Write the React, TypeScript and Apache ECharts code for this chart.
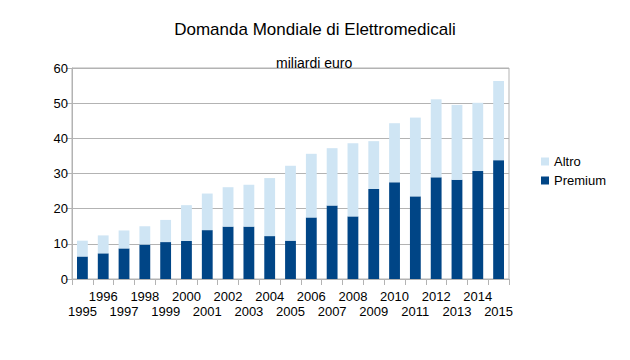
import React, { useEffect, useRef } from "react";
import * as echarts from "echarts";

const years = [
  "1995", "1996", "1997", "1998", "1999", "2000", "2001", "2002", "2003", "2004", "2005",
  "2006", "2007", "2008", "2009", "2010", "2011", "2012", "2013", "2014", "2015",
];
const premium = [6.4, 7.3, 8.7, 9.8, 10.5, 10.8, 13.9, 14.9, 14.9, 12.2, 10.9, 17.5, 20.9, 17.8, 25.6, 27.5, 23.5, 28.9, 28.2, 30.7, 33.8];
const totals = [10.9, 12.4, 13.8, 15.0, 16.8, 21.0, 24.3, 26.1, 26.8, 28.7, 32.2, 35.6, 37.2, 38.6, 39.2, 44.3, 45.9, 51.1, 49.5, 50.1, 56.3];
const altro = totals.map((t, i) => Math.round((t - premium[i]) * 10) / 10);

const FONT = "Liberation Sans";

export default function App() {
  const ref = useRef<HTMLDivElement>(null);
  useEffect(() => {
    document.body.style.margin = "0";
    if (!ref.current) return;
    const chart = echarts.init(ref.current, null, { renderer: "svg" });
    chart.setOption({
      animation: false,
      textStyle: { fontFamily: FONT, color: "#000" },
      title: [
        {
          text: "Domanda Mondiale di Elettromedicali",
          left: "center",
          top: 16,
          textStyle: { fontFamily: FONT, fontSize: 17, fontWeight: "normal", color: "#000" },
        },
        {
          text: "miliardi euro",
          left: 271,
          top: 51,
          textStyle: { fontFamily: FONT, fontSize: 14, fontWeight: "normal", color: "#000" },
        },
      ],
      legend: {
        orient: "vertical",
        left: 536,
        top: 150,
        itemWidth: 8,
        itemHeight: 8,
        itemGap: 6,
        icon: "rect",
        data: ["Altro", "Premium"],
        textStyle: { fontFamily: FONT, fontSize: 13, color: "#000" },
      },
      grid: { left: 72, right: 121, top: 68, bottom: 81, show: true, borderColor: "#b3b3b3", borderWidth: 1 },
      xAxis: {
        type: "category",
        data: years,
        axisLine: { lineStyle: { color: "#b3b3b3" } },
        axisTick: { show: true, length: 6, lineStyle: { color: "#b3b3b3" } },
        axisLabel: {
          interval: 0,
          fontFamily: FONT,
          fontSize: 13,
          color: "#000",
          lineHeight: 15,
          margin: 10,
          formatter: (v: string, i: number) => (i % 2 === 0 ? "\n" + v : v),
        },
      },
      yAxis: {
        type: "value",
        min: 0,
        max: 60,
        interval: 10,
        axisLine: { show: true, lineStyle: { color: "#b3b3b3" } },
        axisTick: { show: true, length: 6, lineStyle: { color: "#b3b3b3" } },
        axisLabel: { fontFamily: FONT, fontSize: 13, color: "#000", margin: 4 },
        splitLine: { lineStyle: { color: "#b3b3b3" } },
      },
      series: [
        {
          name: "Premium",
          type: "bar",
          stack: "tot",
          data: premium,
          barWidth: "52%",
          itemStyle: { color: "#004586" },
        },
        {
          name: "Altro",
          type: "bar",
          stack: "tot",
          data: altro,
          barWidth: "52%",
          itemStyle: { color: "#cfe5f4" },
        },
      ],
    });
    return () => chart.dispose();
  }, []);
  return <div ref={ref} style={{ width: 630, height: 360 }} />;
}
